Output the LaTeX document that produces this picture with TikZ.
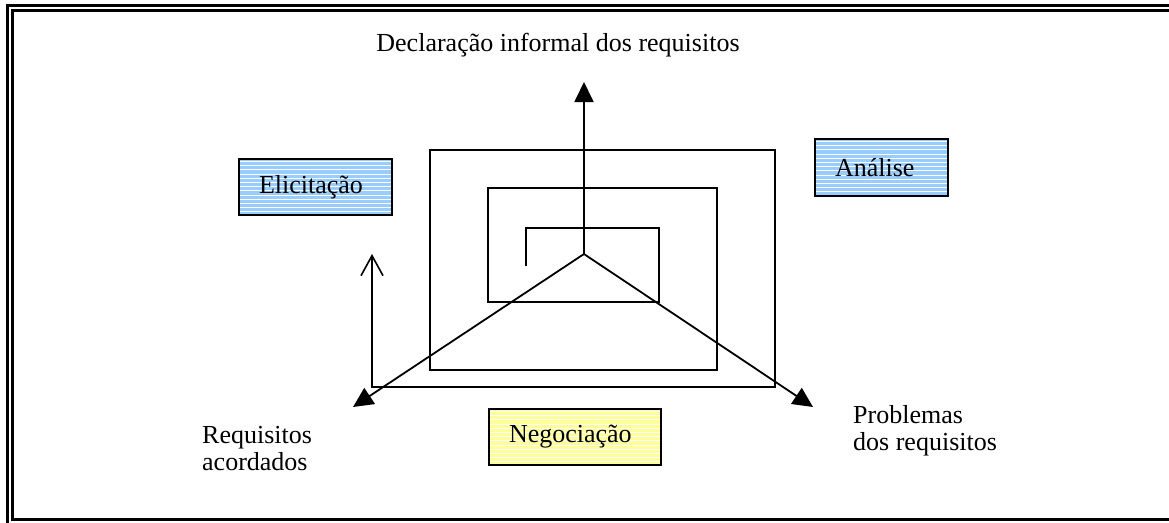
\documentclass[tikz,border=0pt]{standalone}
\usepackage{fontspec}
\setmainfont{Liberation Serif}
\usetikzlibrary{arrows.meta}
\definecolor{boxblue}{HTML}{99CCFF}
\definecolor{boxyellow}{HTML}{FFFF99}
\tikzset{
  lbl/.style={font=\fontsize{26}{27}\selectfont, inner sep=0pt},
  stripebox/.style={draw=black, line width=2pt, fill=#1, anchor=west,
    inner xsep=20pt, inner ysep=0pt, align=left,
    font=\fontsize{26}{27}\selectfont,
    path picture={
      \foreach \k in {0,...,16}
        \draw[white, line width=1.1pt]
          ([yshift={-(\k*4.2+2.5)*1pt}]path picture bounding box.north west) --
          ([yshift={-(\k*4.2+2.5)*1pt}]path picture bounding box.north east);
    }},
  line/.style={line width=1.8pt, line join=miter},
  bigarrow/.style={line width=1.8pt, -{Triangle[length=20pt, width=19pt]}},
  openarrow/.style={line width=1.8pt, -{Straight Barb[length=20pt, width=22pt, line width=1.6pt]}},
  framel/.style={line width=3pt}
}
\begin{document}
\begin{tikzpicture}[x=1pt, y=-1pt]
\useasboundingbox (0,0) rectangle (1169,522);
\begin{scope}
\clip (0,0) rectangle (1169,522);
\draw[framel] (7.5,5.5) rectangle (1200,545);
\draw[framel] (12.5,10.5) rectangle (1190,519.5);
\end{scope}

% spiral
\coordinate (s0) at (526,266);
\coordinate (send) at (372,254);
\draw[line] (s0) -- (526,228) -- (659,228) -- (659,302) -- (488,302) -- (488,188)
  -- (717,188) -- (717,370) -- (430,370) -- (430,150) -- (775,150) -- (775,387)
  -- (372,387) -- (372,262);
\draw[openarrow] (372,270) -- (send);

% axes
\coordinate (apex) at (584,254);
\coordinate (tup) at (584,82);
\coordinate (tleft) at (353,407);
\coordinate (tright) at (813,407);
\draw[bigarrow] (apex) -- (tup);
\draw[bigarrow] (apex) -- (tleft);
\draw[bigarrow] (apex) -- (tright);

% boxes
\node[stripebox=boxblue, text width=113pt, minimum width=153pt, minimum height=56pt] (elic) at (238,187) {Elicitação};
\node[stripebox=boxblue, text width=93pt, minimum width=133pt, minimum height=57pt] (anal) at (814,167.5) {Análise};
\node[stripebox=boxyellow, text width=132pt, minimum width=172pt, minimum height=56pt] (nego) at (488,437) {Negociação};

% labels
\node[lbl, anchor=base] (decl) at (558,51) {Declaração informal dos requisitos};
\node[lbl, anchor=base west] (req1) at (202,443) {Requisitos};
\node[lbl, anchor=base west] (req2) at (202,470) {acordados};
\node[lbl, anchor=base west] (prob1) at (853,423) {Problemas};
\node[lbl, anchor=base west] (prob2) at (853,450) {dos requisitos};
\end{tikzpicture}
\end{document}
